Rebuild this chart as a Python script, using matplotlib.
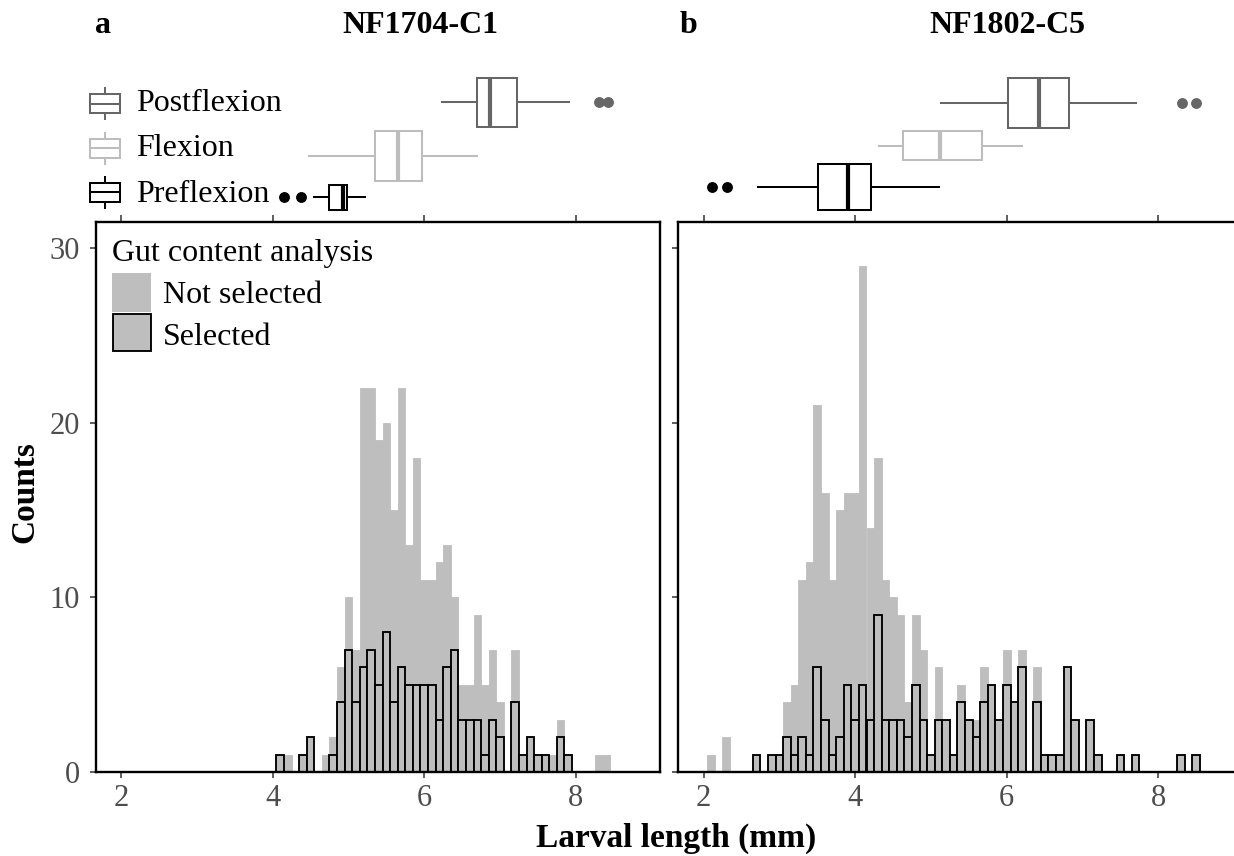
import numpy as np
import matplotlib
matplotlib.use("Agg")
import matplotlib.pyplot as plt
from matplotlib.patches import Rectangle
from matplotlib.lines import Line2D

plt.rcParams['font.family'] = ['Liberation Serif', 'DejaVu Serif']

# ---------------- data ----------------
# Panel a (NF1704-C1): histogram bins (mm, 0.1 mm wide) and counts
bins_a = [4.1, 4.2, 4.3, 4.4, 4.5, 4.6, 4.7, 4.8, 4.9, 5.0,
          5.1, 5.2, 5.3, 5.4, 5.5, 5.6, 5.7, 5.8, 5.9, 6.0,
          6.1, 6.2, 6.3, 6.4, 6.5, 6.6, 6.7, 6.8, 6.9, 7.0,
          7.1, 7.2, 7.3, 7.4, 7.5, 7.6, 7.7, 7.8, 7.9, 8.0,
          8.1, 8.2, 8.3, 8.4]
total_a = [1, 1, 0, 1, 2, 0, 1, 2, 6, 10,
           7, 22, 22, 19, 20, 15, 22, 13, 18, 11,
           11, 12, 13, 10, 5, 5, 9, 5, 7, 4,
           0, 7, 1, 2, 1, 1, 1, 3, 1, 0,
           0, 0, 1, 1]
selected_a = [1, 0, 0, 1, 2, 0, 0, 1, 4, 7,
              4, 6, 7, 5, 8, 4, 6, 5, 5, 5,
              5, 3, 6, 7, 3, 3, 3, 1, 3, 2,
              0, 4, 1, 2, 1, 1, 0, 2, 1, 0,
              0, 0, 0, 0]

# Panel b (NF1802-C5)
bins_b = [2.1, 2.2, 2.3, 2.4, 2.5, 2.6, 2.7, 2.8, 2.9, 3.0,
          3.1, 3.2, 3.3, 3.4, 3.5, 3.6, 3.7, 3.8, 3.9, 4.0,
          4.1, 4.2, 4.3, 4.4, 4.5, 4.6, 4.7, 4.8, 4.9, 5.0,
          5.1, 5.2, 5.3, 5.4, 5.5, 5.6, 5.7, 5.8, 5.9, 6.0,
          6.1, 6.2, 6.3, 6.4, 6.5, 6.6, 6.7, 6.8, 6.9, 7.0,
          7.1, 7.2, 7.3, 7.4, 7.5, 7.6, 7.7, 7.8, 7.9, 8.0,
          8.1, 8.2, 8.3, 8.4, 8.5]
total_b = [1, 0, 2, 0, 0, 0, 1, 0, 1, 1,
           4, 5, 11, 12, 21, 16, 11, 15, 16, 16,
           29, 14, 18, 11, 10, 9, 4, 9, 7, 1,
           6, 3, 1, 5, 3, 3, 6, 5, 3, 7,
           4, 7, 0, 6, 1, 1, 1, 6, 3, 0,
           3, 1, 0, 0, 1, 0, 1, 0, 0, 0,
           0, 0, 1, 0, 1]
selected_b = [0, 0, 0, 0, 0, 0, 1, 0, 1, 1,
              2, 1, 2, 1, 6, 3, 1, 2, 5, 3,
              5, 3, 9, 3, 3, 3, 2, 5, 3, 1,
              3, 3, 1, 4, 3, 2, 4, 5, 3, 5,
              4, 6, 0, 4, 1, 1, 1, 6, 3, 0,
              3, 1, 0, 0, 1, 0, 1, 0, 0, 0,
              0, 0, 1, 0, 1]

# Boxplot summaries per stage (order: Preflexion, Flexion, Postflexion)
stages = ['Preflexion', 'Flexion', 'Postflexion']
n_a = [33, 133, 127]
whislo_a = [4.54, 4.48, 6.23]
q1_a = [4.74, 5.35, 6.69]
med_a = [4.93, 5.66, 6.87]
q3_a = [4.98, 5.97, 7.23]
whishi_a = [5.22, 6.70, 7.91]
fliers_a = [[4.15, 4.37], [], [8.31, 8.43]]

n_b = [126, 50, 148]
whislo_b = [2.72, 4.32, 5.13]
q1_b = [3.51, 4.63, 6.01]
med_b = [3.91, 5.12, 6.42]
q3_b = [4.21, 5.68, 6.82]
whishi_b = [5.11, 6.20, 7.71]
fliers_b = [[2.11, 2.31], [], [8.31, 8.50]]

xticks = [2, 4, 6, 8]
yticks = [0, 10, 20, 30]

# ---------------- style ----------------
stage_colors = ['#000000', '#bdbdbd', '#666666']
GREY = '#bebebe'
TICKLAB = '#4d4d4d'
TICKC = '#333333'
XLIM = (1.67, 9.11)
YLIM = (0, 31.5)

W, H = 1234, 856
fig = plt.figure(figsize=(W / 100, H / 100), dpi=100)


def add_ax(l, t, r, b):
    return fig.add_axes([l / W, 1 - b / H, (r - l) / W, (b - t) / H])


def hist_panel(ax, bins, total, sel, show_ylab):
    bins = np.asarray(bins, float)
    total = np.asarray(total, float)
    sel = np.asarray(sel, float)
    notsel = total - sel
    m = notsel > 0
    ax.bar(bins[m], notsel[m], width=0.1, bottom=sel[m], color=GREY,
           edgecolor=GREY, linewidth=0.6, zorder=2)
    m2 = sel > 0
    ax.bar(bins[m2], sel[m2], width=0.1, color=GREY, edgecolor='black',
           linewidth=1.35, zorder=3)
    ax.set_xlim(XLIM)
    ax.set_ylim(YLIM)
    ax.set_xticks(xticks)
    ax.set_yticks(yticks)
    for s in ax.spines.values():
        s.set_linewidth(1.7)
        s.set_color('black')
        s.set_zorder(5)
    ax.tick_params(direction='out', length=4.5, width=1.1, color=TICKC,
                   labelsize=22, labelcolor=TICKLAB)
    ax.tick_params(axis='y', pad=7)
    ax.tick_params(axis='x', pad=4)
    if not show_ylab:
        ax.tick_params(axis='y', labelleft=False)


def box_panel(ax, whislo, q1, med, q3, whishi, fliers, n):
    sq = np.sqrt(np.asarray(n, float))
    gap = 0.027
    w = (1 - 2 * gap) * sq / sq.sum()
    pos = -0.5 + np.cumsum(w) - w / 2 + gap * np.arange(len(w))
    for i in range(len(w)):
        c = stage_colors[i]
        st = dict(whislo=whislo[i], q1=q1[i], med=med[i], q3=q3[i],
                  whishi=whishi[i], fliers=np.asarray(fliers[i], float))
        kw = dict(positions=[pos[i]], widths=[w[i]], patch_artist=True,
                  showcaps=False,
                  boxprops=dict(facecolor='white', edgecolor=c, linewidth=1.45),
                  medianprops=dict(color=c, linewidth=3.0, solid_capstyle='butt'),
                  whiskerprops=dict(color=c, linewidth=1.45),
                  flierprops=dict(marker='o', markerfacecolor=c,
                                  markeredgecolor=c, markersize=6.8))
        try:
            ax.bxp([st], orientation='horizontal', **kw)
        except TypeError:
            ax.bxp([st], vert=False, **kw)
    ax.set_ylim(-0.538, 0.618)
    ax.set_xlim(XLIM)
    for s in ax.spines.values():
        s.set_visible(False)
    ax.set_yticks([])
    ax.set_xticks(xticks)
    ax.tick_params(axis='x', direction='out', length=4.5, width=1.1,
                   color=TICKC, labelbottom=False)
    ax.patch.set_alpha(0)


# histogram panels
ax_a = add_ax(96, 222, 660, 772)
hist_panel(ax_a, bins_a, total_a, selected_a, True)
ax_b = add_ax(678.5, 222, 1242.5, 772)
hist_panel(ax_b, bins_b, total_b, selected_b, False)

# boxplot panels
bx_a = add_ax(96, 62, 660, 215)
box_panel(bx_a, whislo_a, q1_a, med_a, q3_a, whishi_a, fliers_a, n_a)
bx_b = add_ax(678.5, 62, 1242.5, 215)
box_panel(bx_b, whislo_b, q1_b, med_b, q3_b, whishi_b, fliers_b, n_b)

# overlay in pixel units for legends and titles
ov = fig.add_axes([0, 0, 1, 1], zorder=10)
ov.set_xlim(0, W)
ov.set_ylim(H, 0)
ov.axis('off')
ov.patch.set_alpha(0)

# stage legend (top to bottom: Postflexion, Flexion, Preflexion)
key_centers = [192, 148, 103.7]
key_baselines = [201.7, 156, 111]
for i in range(len(stages)):
    c = stage_colors[i]
    yc = key_centers[i]
    ov.add_patch(Rectangle((90, yc - 9.5), 30, 19, fill=False, ec=c, lw=1.45))
    ov.add_line(Line2D([90, 120], [yc, yc], color=c, lw=1.45))
    ov.add_line(Line2D([105, 105], [yc - 15.5, yc - 9.5], color=c, lw=1.45))
    ov.add_line(Line2D([105, 105], [yc + 9.5, yc + 15.5], color=c, lw=1.45))
    ov.text(136.5, key_baselines[i], stages[i], fontsize=23, color='black',
            ha='left', va='baseline')

# histogram legend
ov.text(111.7, 261, 'Gut content analysis', fontsize=23, ha='left', va='baseline')
ov.add_patch(Rectangle((112, 273), 39, 38.5, fc=GREY, ec='none'))
ov.add_patch(Rectangle((112.5, 313.5), 38, 37.5, fc=GREY, ec='black', lw=1.35))
ov.text(163, 303.3, 'Not selected', fontsize=23, ha='left', va='baseline')
ov.text(163, 345, 'Selected', fontsize=23, ha='left', va='baseline')

# titles and labels
ov.text(103, 33.3, 'a', fontsize=23, fontweight='bold', ha='center', va='baseline')
ov.text(420, 33.3, 'NF1704-C1', fontsize=23, fontweight='bold', ha='center', va='baseline')
ov.text(689, 33.3, 'b', fontsize=23, fontweight='bold', ha='center', va='baseline')
ov.text(1007, 33.3, 'NF1802-C5', fontsize=23, fontweight='bold', ha='center', va='baseline')
ov.text(25, 492, 'Counts', fontsize=24, fontweight='bold', rotation=90,
        ha='center', va='center')
ov.text(676, 847, 'Larval length (mm)', fontsize=24, fontweight='bold',
        ha='center', va='baseline')

fig.savefig('out.png', dpi=100)
